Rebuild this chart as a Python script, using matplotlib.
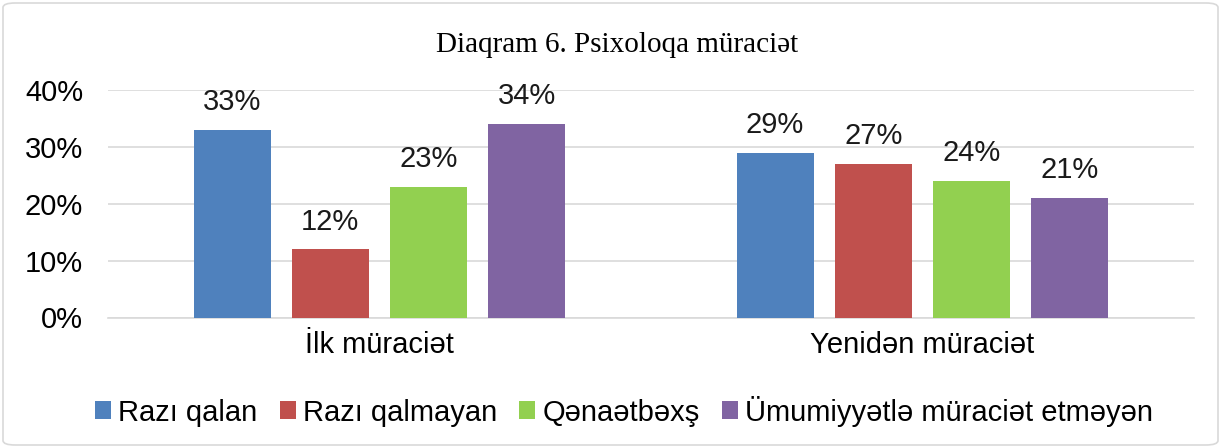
import matplotlib
matplotlib.use("Agg")
import matplotlib.pyplot as plt
from matplotlib.patches import FancyBboxPatch
import numpy as np

categories = ["İlk müraciət", "Yenidən müraciət"]
series_names = ["Razı qalan", "Razı qalmayan", "Qənaətbəxş", "Ümumiyyətlə müraciət etməyən"]
values = [
    [33, 29],
    [12, 27],
    [23, 24],
    [34, 21],
]
colors = ["#4F81BD", "#C0504D", "#92D050", "#8064A2"]
yticks = [0, 10, 20, 30, 40]
title = "Diaqram 6. Psixoloqa müraciət"

FS = 21
fig = plt.figure(figsize=(12.21, 4.48), dpi=100)
ax = fig.add_axes([108/1221, 1 - 317.5/448, (1194-108)/1221, (317.5-90)/448])

x = np.arange(len(categories))
width = 0.142
step = 0.181
for i, (name, vals, c) in enumerate(zip(series_names, values, colors)):
    off = (i - 1.5) * step
    bars = ax.bar(x + off, vals, width, color=c, label=name, zorder=3)
    for b, v in zip(bars, vals):
        ax.text(b.get_x() + b.get_width()/2, v + 2.4, f"{v}%", ha="center", va="bottom",
                fontsize=FS, family="Liberation Sans", color="#1a1a1a")

ax.set_xlim(-0.5, 1.5)
ax.set_ylim(0, 40)
ax.set_yticks(yticks)
ax.set_yticklabels([f"{t}%" for t in yticks], fontsize=FS, family="Liberation Sans")
ax.set_xticks(x)
ax.set_xticklabels(categories, fontsize=FS, family="Liberation Sans")
ax.tick_params(length=0, pad=10)
ax.tick_params(axis="y", pad=18)
ax.grid(axis="y", color="#D9D9D9", linewidth=1.2, zorder=0)
for s in ["top", "right", "left"]:
    ax.spines[s].set_visible(False)
ax.spines["bottom"].set_color("#D9D9D9")
ax.spines["bottom"].set_linewidth(1.2)

fig.text(617/1221, 1 - 45/448, title, ha="center", va="center", fontsize=21,
         family="Liberation Serif", color="#000000")

handles, labels = ax.get_legend_handles_labels()
leg = fig.legend(handles, labels, loc="center", bbox_to_anchor=(624/1221, 1 - 411/448),
                 ncol=4, frameon=False, prop={"family": "Liberation Sans", "size": FS},
                 handlelength=0.55, handleheight=0.55, handletextpad=0.25, columnspacing=0.75)

border = FancyBboxPatch((3/1221, 3/448), 1 - 6/1221, 1 - 6/448, boxstyle="round,pad=0,rounding_size=0.01",
                        transform=fig.transFigure, fill=False, edgecolor="#D9D9D9", linewidth=1.2)
fig.patches.append(border)

fig.savefig("out.png", dpi=100)
